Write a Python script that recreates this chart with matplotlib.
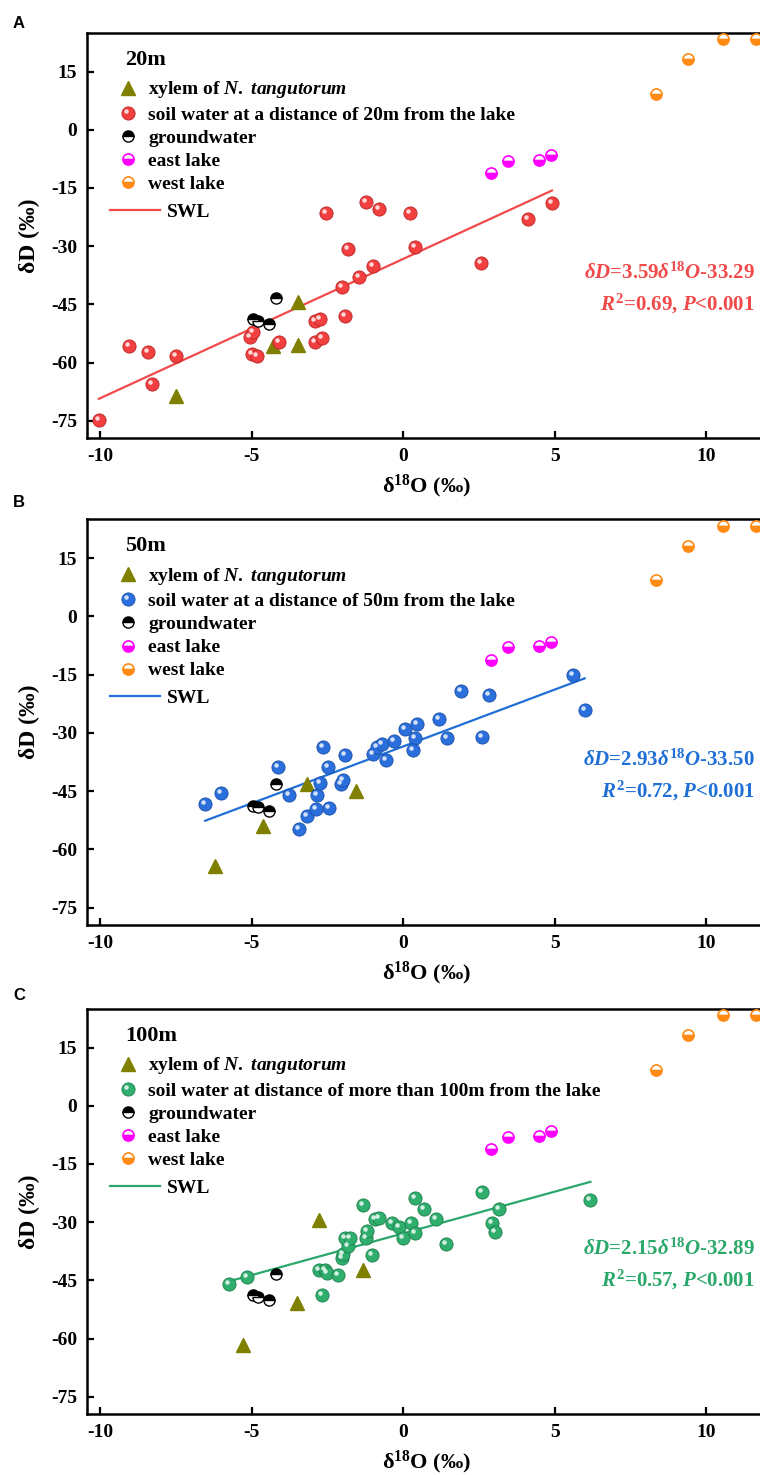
import matplotlib
matplotlib.use("Agg")
import matplotlib.pyplot as plt
from matplotlib.markers import MarkerStyle
from matplotlib.transforms import Affine2D

plt.rcParams['font.family'] = ['Liberation Serif', 'DejaVu Serif']
plt.rcParams['font.weight'] = 'bold'
plt.rcParams['axes.labelweight'] = 'bold'
plt.rcParams['mathtext.fontset'] = 'custom'
plt.rcParams['mathtext.rm'] = 'Liberation Serif:weight=bold'
plt.rcParams['mathtext.bf'] = 'Liberation Serif:weight=bold'
plt.rcParams['mathtext.it'] = 'Liberation Serif:style=italic:weight=bold'

# shared sources (same in every panel)
gw_x = [-4.2, -4.95, -4.78, -4.42]
gw_y = [-43.3, -48.8, -49.2, -50.0]
east_x = [2.9, 3.45, 4.48, 4.87]
east_y = [-11.1, -8.0, -7.7, -6.6]
west_x = [8.35, 9.41, 10.56, 11.65]
west_y = [9.3, 18.1, 23.3, 23.3]

# panel A: 20 m
xyl_a_x = [-7.5, -4.3, -3.47, -3.47]
xyl_a_y = [-68.6, -55.6, -55.5, -44.3]
soil_a_x = [-10.04, -9.05, -8.43, -8.28, -7.5, -5.04, -4.96, -5.0, -4.83, -4.09,
            -2.92, -2.75, -2.91, -2.68, -2.55, -1.93, -2.02, -1.83, -1.46, -1.22,
            -1.0, -0.8, 0.24, 0.38, 2.56, 4.13, 4.91]
soil_a_y = [-74.8, -55.7, -57.2, -65.6, -58.3, -53.3, -52.1, -57.9, -58.4, -54.8,
            -49.3, -48.7, -54.8, -53.6, -21.4, -48.0, -40.6, -30.7, -38.0, -18.6,
            -35.2, -20.3, -21.4, -30.2, -34.3, -23.1, -18.9]

# panel B: 50 m
xyl_b_x = [-6.22, -4.62, -3.17, -1.54]
xyl_b_y = [-64.4, -53.9, -43.1, -44.9]
soil_b_x = [-6.53, -6.0, -4.13, -3.78, -3.45, -3.16, -2.86, -2.85, -2.74, -2.64,
            -2.48, -2.44, -2.06, -2.0, -1.91, -0.98, -0.85, -0.7, -0.58, -0.31,
            0.06, 0.47, 0.38, 0.32, 1.18, 1.45, 1.91, 2.61, 2.84, 5.62, 5.99]
soil_b_y = [-48.3, -45.4, -38.9, -46.0, -54.7, -51.5, -49.6, -46.0, -42.9, -33.7,
            -38.7, -49.4, -43.3, -42.2, -35.8, -35.4, -33.7, -32.9, -36.9, -32.1,
            -29.0, -27.7, -31.3, -34.4, -26.5, -31.4, -19.2, -31.1, -20.3, -15.2, -24.2]

# panel C: >100 m
xyl_c_x = [-2.79, -1.34, -3.5, -5.28]
xyl_c_y = [-29.5, -42.3, -50.7, -61.6]
soil_c_x = [-5.74, -5.15, -2.79, -2.59, -2.51, -2.68, -2.14, -2.02, -2.0, -1.83,
            -1.91, -1.74, -1.23, -1.19, -1.04, -1.32, -0.93, -0.81, -0.36, -0.13,
            0.01, 0.27, 0.38, 0.38, 0.69, 1.08, 1.42, 2.61, 3.15, 2.92, 3.02, 6.18]
soil_c_y = [-46.0, -44.1, -42.4, -42.4, -43.1, -48.7, -43.7, -39.3, -38.2, -36.1,
            -34.0, -34.0, -34.0, -32.2, -38.5, -25.7, -29.1, -28.8, -30.1, -31.2,
            -34.2, -30.3, -32.7, -23.9, -26.7, -29.2, -35.7, -22.3, -26.5, -30.3, -32.5, -24.3]

# fitted SWL: slope, intercept, R2
fits = [(3.59, -33.29, '0.69'), (2.93, -33.50, '0.72'), (2.15, -32.89, '0.57')]
titles = ['20m', '50m', '100m']
soil_labels = ['soil water at a distance of 20m from the lake',
               'soil water at a distance of 50m from the lake',
               'soil water at distance of more than 100m from the lake']
panel_letters = ['A', 'B', 'C']
soil_colors = [('#f23f3f', '#b82424'), ('#2a6fdb', '#1a4fa8'), ('#2fae6e', '#1d7f4c')]
line_colors = ['#f04a4a', '#1f6fd6', '#2aa86a']

xticks = [-10, -5, 0, 5, 10]
yticks = [15, 0, -15, -30, -45, -60, -75]

fig = plt.figure(figsize=(7.6, 14.75), dpi=100)
W, H = 760.0, 1475.0
bottoms_px = [438.3, 925.0, 1414.3]
letter_y = [23, 503, 996]

hl_marker = MarkerStyle('o', transform=Affine2D().scale(0.34).translate(-0.15, 0.15))


def draw_panel(i, xyl_x, xyl_y, soil_x, soil_y):
    ax = fig.add_axes([87 / W, 1 - bottoms_px[i] / H, 695 / W, 405.6 / H])
    ax.set_xlim(-10.43, 12.5)
    ax.set_ylim(-79.5, 25)

    slope, icpt, r2 = fits[i]
    x0, x1 = min(soil_x), max(soil_x)
    swl, = ax.plot([x0, x1], [slope * x0 + icpt, slope * x1 + icpt],
                   color=line_colors[i], lw=1.6, zorder=2)

    tri, = ax.plot(xyl_x, xyl_y, ls='none', marker='^', ms=10, color='#808000', zorder=3)
    fc, ec = soil_colors[i]
    base, = ax.plot(soil_x, soil_y, ls='none', marker='o', ms=9.5, mfc=fc, mec=ec,
                    mew=0.6, zorder=3)
    hl, = ax.plot(soil_x, soil_y, ls='none', marker=hl_marker, ms=9.5, mfc='white',
                  mec='none', alpha=0.8, zorder=4)
    gw, = ax.plot(gw_x, gw_y, ls='none', marker='o', ms=8, fillstyle='top',
                  mfc='black', mfcalt='white', mec='black', mew=1, zorder=3)
    east, = ax.plot(east_x, east_y, ls='none', marker='o', ms=8, fillstyle='bottom',
                    mfc='#ff00ff', mfcalt='white', mec='#ff00ff', mew=1.2, zorder=3)
    west, = ax.plot(west_x, west_y, ls='none', marker='o', ms=8, fillstyle='bottom',
                    mfc='#ff8a14', mfcalt='white', mec='#ff8a14', mew=1.2, zorder=3,
                    clip_on=False)

    ax.set_xticks(xticks)
    ax.set_yticks(yticks)
    ax.set_xticklabels([str(t) for t in xticks])
    ax.set_yticklabels([str(t) for t in yticks])
    ax.tick_params(direction='in', length=5, width=1.6, labelsize=14, pad=7)
    for s in ax.spines.values():
        s.set_linewidth(1.8)

    ax.set_xlabel(r'δ$^{\mathbf{18}}$O (‰)', fontsize=16)
    ax.xaxis.set_label_coords(0.489, -0.085)
    ax.set_ylabel('δD (‰)', fontsize=17)
    ax.yaxis.set_label_coords(-0.068, 0.5)

    leg1 = ax.legend(handles=[tri, (base, hl), gw, east, west],
                     labels=[r'xylem of $\mathit{N.}$ $\mathit{tangutorum}$', soil_labels[i],
                             'groundwater', 'east lake', 'west lake'],
                     title=titles[i], title_fontproperties={'size': 16, 'weight': 'bold'},
                     loc='upper left', bbox_to_anchor=(0.0547, 0.958), alignment='left',
                     frameon=False, fontsize=14, handlelength=0.35, handletextpad=0.85,
                     labelspacing=0.28, borderpad=0, borderaxespad=0)
    leg1._legend_box.sep = 7
    ax.add_artist(leg1)
    ax.legend(handles=[swl], labels=['SWL'], loc='center left',
              bbox_to_anchor=(23 / 695, (438.3 - 211.7) / 405.6), frameon=False,
              fontsize=14, handlelength=2.57, handletextpad=0.34, borderpad=0,
              borderaxespad=0)

    col = line_colors[i]
    ax.text(11.6, -37, r'$\delta D$=%.2f$\delta^{\mathit{18}}O$%.2f' % (slope, icpt),
            color=col, fontsize=15, ha='right', va='center')
    ax.text(11.6, -45, r'$R^{2}$=%s, $P$<0.001' % r2,
            color=col, fontsize=15, ha='right', va='center')

    fig.text(13 / W, 1 - letter_y[i] / H, panel_letters[i], family='Liberation Sans',
             weight='bold', fontsize=12, va='center', ha='left')
    return ax


draw_panel(0, xyl_a_x, xyl_a_y, soil_a_x, soil_a_y)
draw_panel(1, xyl_b_x, xyl_b_y, soil_b_x, soil_b_y)
draw_panel(2, xyl_c_x, xyl_c_y, soil_c_x, soil_c_y)

fig.savefig('out.png', dpi=100)
